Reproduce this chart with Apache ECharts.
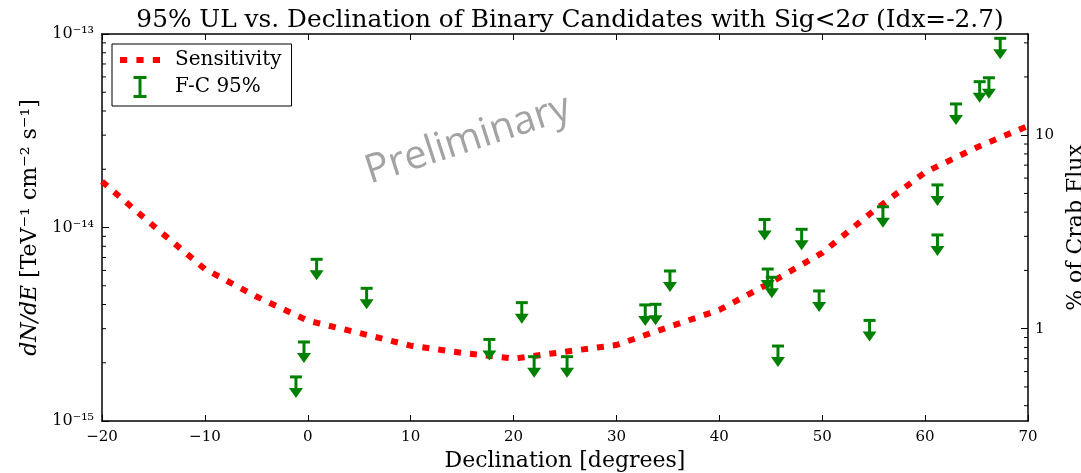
<!DOCTYPE html>
<html>
<head>
<meta charset="utf-8">
<script src="https://cdn.jsdelivr.net/npm/echarts@6/dist/echarts.min.js"></script>
<style>
html,body{margin:0;padding:0;background:#fff;overflow:hidden;width:100%;height:100%;}
#chart{width:1081px;height:473px;position:absolute;left:0;top:0;}
</style>
</head>
<body>
<div id="chart"></div>
<script>
// ---- data ----
const sensDecl = [-20, -15, -10, -5, 0, 5, 10, 15, 20, 25, 30, 35, 40, 45, 50, 55, 60, 65, 70];
const sensFlux = [1.73e-14, 1.02e-14, 6.1e-15, 4.4e-15, 3.3e-15, 2.85e-15, 2.45e-15, 2.25e-15, 2.1e-15, 2.28e-15, 2.47e-15, 3.05e-15, 3.75e-15, 5.2e-15, 7.4e-15, 1.22e-14, 1.93e-14, 2.59e-14, 3.35e-14];

const ulDecl = [-1.15, -0.37, 0.86, 5.72, 17.65, 20.8, 22.0, 25.2, 32.8, 33.8, 35.2, 44.4, 44.7, 45.1, 45.7, 48.0, 49.7, 54.6, 55.9, 61.2, 61.2, 63.0, 65.3, 66.2, 67.3];
const ulFlux = [1.69e-15, 2.56e-15, 6.85e-15, 4.85e-15, 2.64e-15, 4.09e-15, 2.15e-15, 2.15e-15, 3.98e-15, 4.01e-15, 5.96e-15, 1.10e-14, 6.10e-15, 5.53e-15, 2.44e-15, 9.79e-15, 4.70e-15, 3.31e-15, 1.28e-14, 1.66e-14, 9.15e-15, 4.35e-14, 5.67e-14, 5.94e-14, 9.50e-14];

const xMin = -20, xMax = 70, xInterval = 10;
const yMin = 1e-15, yMax = 1e-13;
const yTickValues = [1e-15, 1e-14, 1e-13];
const yTickLabels = ['10\u207B\u00B9\u2075', '10\u207B\u00B9\u2074', '10\u207B\u00B9\u00B3'];
const yMinorValues = [2e-15, 3e-15, 4e-15, 5e-15, 6e-15, 7e-15, 8e-15, 9e-15, 2e-14, 3e-14, 4e-14, 5e-14, 6e-14, 7e-14, 8e-14, 9e-14];
const crabPercentMin = 1 / 3, crabPercentMax = 100 / 3;
const rightTickValues = [1, 10];
const rightTickLabels = ['1', '10'];
const rightMinorValues = [0.4, 0.5, 0.6, 0.7, 0.8, 0.9, 2, 3, 4, 5, 6, 7, 8, 9, 20, 30];

const serif = '"DejaVu Serif", serif';

const chart = echarts.init(document.getElementById('chart'), null, {renderer: 'canvas', width: 1081, height: 473});

function minorTicks(xVal, dir) {
  return function (params, api) {
    const p = api.coord([xVal, api.value(0)]);
    return {
      type: 'line',
      shape: {x1: p[0], y1: p[1], x2: p[0] + dir * 4, y2: p[1]},
      style: {stroke: '#000', lineWidth: 1}
    };
  };
}

const option = {
  animation: false,
  backgroundColor: '#fff',
  title: {
    text: '95% UL vs. Declination of Binary Candidates with Sig<2{i|\u03C3} (Idx=-2.7)',
    left: 565,
    textAlign: 'center',
    top: 3,
    textStyle: {
      fontFamily: serif, fontSize: 24.8, fontWeight: 'normal', color: '#000',
      rich: {i: {fontFamily: serif, fontSize: 24.8, fontStyle: 'italic', color: '#000'}}
    }
  },
  grid: {left: 102, right: 53, top: 34, bottom: 52, containLabel: false, outerBoundsMode: 'none'},
  legend: {
    orient: 'vertical',
    left: 112, top: 44,
    padding: [6, 10, 8, 8],
    itemGap: 6,
    itemWidth: 40, itemHeight: 22,
    borderColor: '#000', borderWidth: 1,
    backgroundColor: '#fff',
    textStyle: {fontFamily: serif, fontSize: 20, color: '#000', padding: [0, 0, 0, 10]},
    data: [
      {name: 'Sensitivity', icon: 'path://M0,0 L7,0 L7,6 L0,6 Z M16,0 L23,0 L23,6 L16,6 Z M32,0 L39,0 L39,6 L32,6 Z', itemStyle: {color: '#ff0000'}},
      {name: 'F-C 95%', icon: 'path://M0,0 L13,0 L13,3 L8,3 L8,19 L13,19 L13,22 L0,22 L0,19 L5,19 L5,3 L0,3 Z', itemStyle: {color: '#008000'}}
    ]
  },
  xAxis: [{
    type: 'value', min: xMin, max: xMax, interval: xInterval,
    name: 'Declination [degrees]', nameLocation: 'middle', nameGap: 29,
    nameTextStyle: {fontFamily: serif, fontSize: 22, color: '#000'},
    axisLine: {onZero: false, lineStyle: {color: '#000', width: 1.5}},
    axisTick: {inside: true, length: 6, lineStyle: {color: '#000'}},
    axisLabel: {fontFamily: serif, fontSize: 15, color: '#000', margin: 9,
      formatter: v => (v < 0 ? '\u2212' + Math.abs(v) : String(v))},
    splitLine: {show: false}
  }, {
    type: 'value', min: xMin, max: xMax, interval: xInterval, position: 'top',
    axisLine: {onZero: false, lineStyle: {color: '#000', width: 1.5}},
    axisTick: {inside: true, length: 6, lineStyle: {color: '#000'}},
    axisLabel: {show: false}, splitLine: {show: false}
  }],
  yAxis: [{
    type: 'log', logBase: 10, min: yMin, max: yMax, position: 'left',
    name: '{i|dN/dE} [TeV\u207B\u00B9 cm\u207B\u00B2 s\u207B\u00B9]',
    nameLocation: 'middle', nameRotate: 90, nameGap: 57,
    nameTextStyle: {fontFamily: serif, fontSize: 22, color: '#000',
      rich: {i: {fontFamily: serif, fontSize: 22, fontStyle: 'italic', color: '#000'}}},
    axisLine: {show: true, onZero: false, lineStyle: {color: '#000', width: 1.5}},
    axisTick: {inside: true, length: 7, lineStyle: {color: '#000'}},
    axisLabel: {fontFamily: serif, fontSize: 16, color: '#000', margin: 8,
      formatter: v => {
        const i = yTickValues.findIndex(t => Math.abs(Math.log10(t) - Math.log10(v)) < 1e-6);
        return i >= 0 ? yTickLabels[i] : '';
      }},
    splitLine: {show: false}
  }, {
    type: 'log', logBase: 10, min: crabPercentMin, max: crabPercentMax, position: 'right',
    name: '% of Crab Flux', nameLocation: 'middle', nameRotate: 90, nameGap: 30,
    nameTextStyle: {fontFamily: serif, fontSize: 22, color: '#000'},
    axisLine: {show: true, onZero: false, lineStyle: {color: '#000', width: 1.5}},
    axisTick: {inside: true, length: 7, lineStyle: {color: '#000'}},
    axisLabel: {fontFamily: serif, fontSize: 15, color: '#000', margin: 7,
      showMinLabel: false, showMaxLabel: false,
      formatter: v => {
        const i = rightTickValues.findIndex(t => Math.abs(Math.log10(t) - Math.log10(v)) < 1e-6);
        return i >= 0 ? rightTickLabels[i] : '';
      }},
    splitLine: {show: false}
  }],
  graphic: [{
    type: 'text',
    x: 468, y: 140,
    rotation: 18 * Math.PI / 180,
    style: {text: 'Preliminary', fontFamily: '"Open Sans", sans-serif', fontSize: 40,
      fill: '#a3a3a3', align: 'center', verticalAlign: 'middle'},
    z: 1
  }],
  series: [
    {
      name: 'Sensitivity', type: 'line', xAxisIndex: 0, yAxisIndex: 0,
      data: sensDecl.map((d, i) => [d, sensFlux[i]]),
      symbol: 'none', showSymbol: false,
      lineStyle: {color: '#ff0000', width: 6, type: [7, 9], cap: 'butt'},
      itemStyle: {color: '#ff0000'},
      z: 3
    },
    {
      name: 'F-C 95%', type: 'custom', xAxisIndex: 0, yAxisIndex: 0,
      data: ulDecl.map((d, i) => [d, ulFlux[i]]),
      itemStyle: {color: '#008000'},
      renderItem: function (params, api) {
        const p = api.coord([api.value(0), api.value(1)]);
        const x = p[0], y = p[1];
        const g = '#008000';
        return {
          type: 'group',
          children: [
            {type: 'rect', shape: {x: x - 6, y: y - 1.5, width: 12, height: 3}, style: {fill: g}},
            {type: 'rect', shape: {x: x - 1.5, y: y, width: 3, height: 12}, style: {fill: g}},
            {type: 'polygon', shape: {points: [[x - 7, y + 11], [x + 7, y + 11], [x, y + 21]]}, style: {fill: g}}
          ]
        };
      },
      z: 4
    },
    {
      name: 'leftMinor', type: 'custom', xAxisIndex: 0, yAxisIndex: 0,
      data: yMinorValues.map(v => [v]),
      encode: {y: 0},
      renderItem: minorTicks(xMin, 1), silent: true, z: 5
    },
    {
      name: 'rightMinor', type: 'custom', xAxisIndex: 0, yAxisIndex: 1,
      data: rightMinorValues.map(v => [v]),
      encode: {y: 0},
      renderItem: minorTicks(xMax, -1), silent: true, z: 5
    }
  ]
};
chart.setOption(option);
</script>
</body>
</html>
